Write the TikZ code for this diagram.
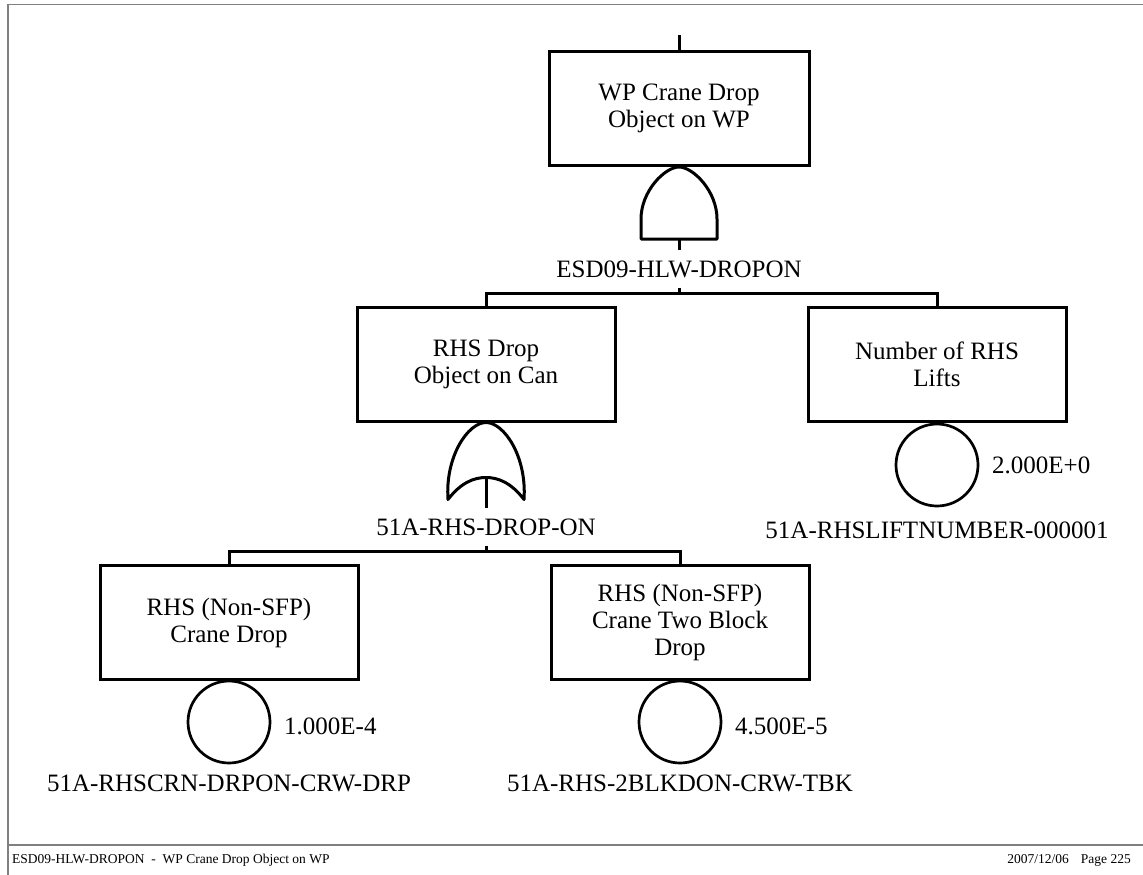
\documentclass[tikz,border=0pt]{standalone}
\usepackage{fontspec}
\setmainfont{Liberation Serif}
\usetikzlibrary{positioning,calc}
\tikzset{
  box/.style={draw, line width=3pt, align=center, minimum width=#1, minimum height=114pt,
              inner sep=0pt, font=\fontsize{25}{27}\selectfont},
  box/.default=258pt,
  basic/.style={draw, circle, line width=2.7pt, minimum size=82pt, inner sep=0pt},
  wire/.style={line width=3pt},
  lab/.style={inner xsep=0pt, inner ysep=10pt, text height=17pt, text depth=0pt,
              font=\fontsize{25}{27}\selectfont},
  prob/.style={anchor=west, inner sep=0pt, text height=17pt, text depth=0pt,
               font=\fontsize{25}{27}\selectfont},
  frame/.style={gray, line width=1.2pt},
  foot/.style={inner sep=0pt, font=\fontsize{13.5}{16}\selectfont},
  andgate/.pic={
    \draw[wire, line join=round] (-38,72) -- (-38,52) .. controls (-38,24) and (-14,0) .. (0,0)
      .. controls (14,0) and (38,24) .. (38,52) -- (38,72) -- cycle;
    \coordinate (-out) at (0,72);
  },
  orgate/.pic={
    \draw[wire, line join=round] (-38,77) .. controls (-41,34) and (-18,0) .. (0,0)
      .. controls (18,0) and (41,34) .. (38,77)
      .. controls (25,60) and (12,55) .. (0,55) .. controls (-12,55) and (-25,60) .. (-38,77) -- cycle;
    \coordinate (-out) at (0,55);
  }
}

\begin{document}
\begin{tikzpicture}[x=1pt, y=-1pt]
\useasboundingbox (0,0) rectangle (1143,875);
% column x positions
\def\xa{229} \def\xb{486} \def\xc{680} \def\xd{937}
% page frame and footer
\draw[frame] (8,875) -- (8,4.5) -- (1143,4.5);
\draw[frame] (8,845) -- (1143,845);
\node[foot, anchor=west] (ftl) at (12,860) {ESD09-HLW-DROPON\ \ -\ \ WP Crane Drop Object on WP};
\node[foot, anchor=east] (ftr) at (1131,860) {2007/12/06\hspace{12pt}Page 225};
% level 1: top event
\coordinate (top) at (679,35);
\node[box=260pt] (wp) at (679,108.5) {WP Crane Drop\\ Object on WP};
\draw[wire] (top) -- (wp.north);
\pic (g1) at (wp.south) {andgate};
\node[lab] (g1id) at (679,269) {ESD09-HLW-DROPON};
\draw[wire] (g1-out) -- (g1id.north);
\coordinate (bar1) at (679,293);
\draw[wire] (g1id.south) -- (bar1);
% level 2
\node[box] (rhs) at (\xb,364) {RHS Drop\\ Object on Can};
\node[box] (nrl) at (\xd,364) {Number of RHS\\ Lifts};
\draw[wire] (rhs.north) |- (bar1) -| (nrl.north);
\pic (g2) at (rhs.south) {orgate};
\node[lab] (g2id) at (\xb,527) {51A-RHS-DROP-ON};
\draw[wire] (g2-out) -- (g2id.north);
\coordinate (bar2) at (\xb,551);
\draw[wire] (g2id.south) -- (bar2);
\node[basic] (ev3) at (\xd,465) {};
\draw[wire] (nrl.south) -- (ev3.north);
\node[prob] (ev3p) at ($(ev3.center)+(55,0)$) {2.000E+0};
\node[lab] (ev3id) at (\xd,530) {51A-RHSLIFTNUMBER-000001};
% level 3
\node[box] (crd) at (\xa,622.5) {RHS (Non-SFP)\\ Crane Drop};
\node[box] (ctb) at (\xc,622.5) {RHS (Non-SFP)\\ Crane Two Block\\ Drop};
\draw[wire] (crd.north) |- (bar2) -| (ctb.north);
\node[basic] (ev1) at (\xa,722) {};
\node[basic] (ev2) at (\xc,722) {};
\draw[wire] (crd.south) -- (ev1.north);
\draw[wire] (ctb.south) -- (ev2.north);
\node[prob] (ev1p) at ($(ev1.center)+(55,4)$) {1.000E-4};
\node[prob] (ev2p) at ($(ev2.center)+(55,4)$) {4.500E-5};
\node[lab] (ev1id) at (\xa,783) {51A-RHSCRN-DRPON-CRW-DRP};
\node[lab] (ev2id) at (\xc,783) {51A-RHS-2BLKDON-CRW-TBK};
\end{tikzpicture}
\end{document}
